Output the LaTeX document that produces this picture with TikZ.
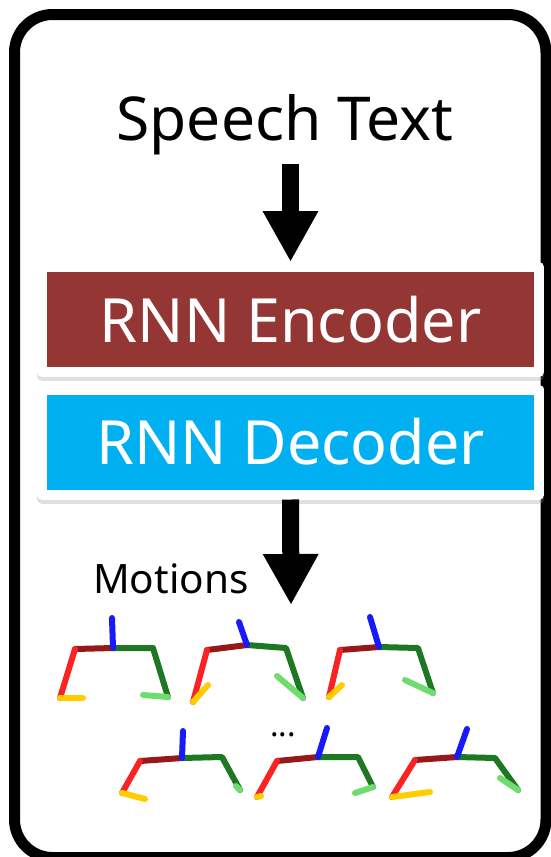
\documentclass[tikz,border=0pt]{standalone}
\usepackage{fontspec}
\setmainfont{Noto Sans}
\usetikzlibrary{arrows.meta,shadows}
\definecolor{encred}{RGB}{148,54,52}
\definecolor{decblue}{RGB}{0,176,240}
\definecolor{spine}{RGB}{25,25,250}
\definecolor{hipl}{RGB}{150,25,25}
\definecolor{legl}{RGB}{250,35,35}
\definecolor{footl}{RGB}{255,205,0}
\definecolor{legr}{RGB}{30,120,35}
\definecolor{footr}{RGB}{110,220,110}

% one pose: root, neck, left hip, right hip, left ankle, left toe, right ankle, right toe
\newcommand{\pose}[8]{%
  \draw[bone, hipl] #3 -- #1;
  \draw[bone, legr] #1 -- #4 -- #7;
  \draw[bone, legl] #3 -- #5;
  \draw[bone, footl] #5 -- #6;
  \draw[bone, footr] #7 -- #8;
  \draw[bone, spine] #1 -- #2;
}

\begin{document}
\begin{tikzpicture}[x=1pt, y=-1pt,
  layer/.style={draw=white, line width=10pt, line join=round, text=white,
    minimum width=497pt, minimum height=105pt, inner sep=0pt,
    font=\fontsize{61}{66}\selectfont,
    drop shadow={shadow xshift=0pt, shadow yshift=-4pt, fill=black!40,
      draw=black!40, line width=10pt, opacity=0.3}},
  bigarrow/.style={line width=17pt, -{Triangle[width=52pt, length=51pt]}},
  bone/.style={line width=6pt, line cap=round, line join=round}]
  \useasboundingbox (0,0) rectangle (551,857);
  \draw[line width=11pt, rounded corners=38pt] (14.5,14.5) rectangle (546,857.5);

  \node[anchor=base, font=\fontsize{60.5}{66}\selectfont] (spch) at (285,140) {Speech Text};
  \node[layer, fill=encred] (enc) at (290.5,319.5) {RNN Encoder};
  \node[layer, fill=decblue] (dec) at (290.5,442) {RNN Decoder};
  \coordinate (out) at (291,605);

  \draw[bigarrow] ([yshift=-6pt]spch.south -| enc.north) -- (enc.north);
  \draw[bigarrow] (dec.south) -- (out);

  \node[anchor=base west, inner sep=0pt, font=\fontsize{40.5}{44}\selectfont] (mot) at (93,593) {Motions};
  \node[anchor=base, inner sep=0pt, font=\fontsize{32}{36}\selectfont] (dots) at (283,736) {...};

  % generated poses, top row
  \pose{(113,648)}{(112,618)}{(75,649)}{(153,648)}{(60,698)}{(83,698)}{(168,697)}{(143,695)}
  \pose{(247,645)}{(239,622)}{(207,650)}{(286,648)}{(193,702)}{(208,685)}{(303,698)}{(277,676)}
  \pose{(379,647)}{(370,617)}{(340,650)}{(418,648)}{(329,697)}{(342,685)}{(433,693)}{(405,680)}
  % bottom row
  \pose{(182,758)}{(183,731)}{(140,761)}{(222,757)}{(122,793)}{(145,799)}{(240,790)}{(236,786)}
  \pose{(318,757)}{(327,728)}{(277,761)}{(358,757)}{(257,797)}{(261,796)}{(373,787)}{(355,793)}
  \pose{(457,757)}{(467,729)}{(415,760)}{(495,758)}{(392,797)}{(430,792)}{(518,790)}{(500,778)}
\end{tikzpicture}
\end{document}
